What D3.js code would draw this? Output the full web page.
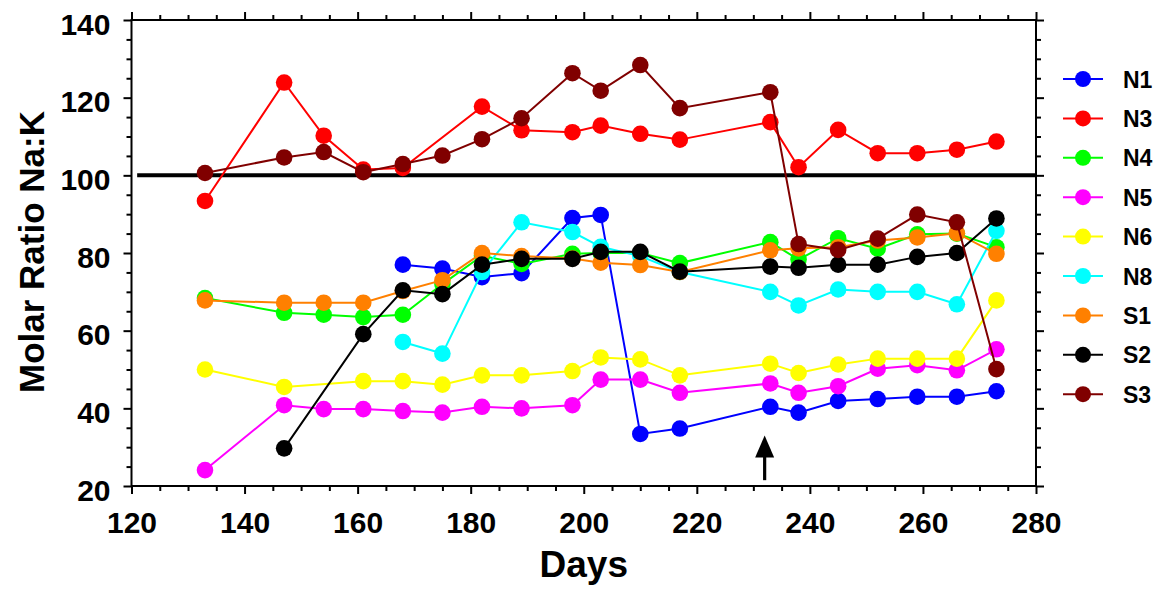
<!DOCTYPE html>
<html>
<head>
<meta charset="utf-8">
<script src="https://cdn.jsdelivr.net/npm/d3@7/dist/d3.min.js"></script>
<style>
  html, body { margin: 0; padding: 0; background: #fff; }
  svg { display: block; }
  text { font-family: "Liberation Sans", Arial, Helvetica, sans-serif; font-weight: bold; fill: #000; }
</style>
</head>
<body>
<svg id="chart" width="1163" height="597"></svg>
<script>
// ---- Data ----
const seriesNames = ["N1", "N3", "N4", "N5", "N6", "N8", "S1", "S2", "S3"];
const seriesColors = ["#0000ff", "#ff0000", "#00ff00", "#ff00ff", "#ffff00", "#00ffff", "#ff8000", "#000000", "#800000"];

const N1_days = [168, 175, 182, 189, 198, 203, 210, 217, 233, 238, 245, 252, 259, 266, 273];
const N1_vals = [77.0, 76.0, 73.8, 74.8, 89.0, 89.8, 33.4, 34.8, 40.4, 38.9, 41.9, 42.4, 43.0, 43.0, 44.4];

const N3_days = [133, 147, 154, 161, 168, 182, 189, 198, 203, 210, 217, 233, 238, 245, 252, 259, 266, 273];
const N3_vals = [93.4, 123.9, 110.2, 101.5, 101.9, 117.7, 111.6, 111.1, 112.8, 110.7, 109.2, 113.7, 102.1, 111.7, 105.7, 105.7, 106.6, 108.7];

const N4_days = [133, 147, 154, 161, 168, 175, 182, 189, 198, 203, 210, 217, 233, 238, 245, 252, 259, 266, 273];
const N4_vals = [68.4, 64.6, 64.1, 63.5, 64.1, 72.0, 79.3, 77.2, 79.8, 80.0, 80.0, 77.4, 82.8, 78.3, 83.8, 81.1, 84.8, 85.0, 81.5];

const N5_days = [133, 147, 154, 161, 168, 175, 182, 189, 198, 203, 210, 217, 233, 238, 245, 252, 259, 266, 273];
const N5_vals = [24.1, 40.8, 39.8, 39.8, 39.3, 38.9, 40.4, 40.0, 40.8, 47.4, 47.4, 44.0, 46.4, 44.0, 45.7, 50.2, 51.1, 49.8, 55.2];

const N6_days = [133, 147, 161, 168, 175, 182, 189, 198, 203, 210, 217, 233, 238, 245, 252, 259, 266, 273];
const N6_vals = [50.0, 45.5, 47.0, 47.0, 46.1, 48.5, 48.5, 49.6, 53.1, 52.6, 48.5, 51.5, 49.1, 51.3, 52.8, 52.8, 52.8, 67.8];

const N8_days = [168, 175, 182, 189, 198, 203, 210, 217, 233, 238, 245, 252, 259, 266, 273];
const N8_vals = [57.1, 54.1, 75.1, 87.9, 85.4, 81.6, 79.2, 75.1, 70.0, 66.5, 70.6, 70.0, 70.0, 66.8, 85.7];

const S1_days = [133, 147, 154, 161, 168, 175, 182, 189, 198, 203, 210, 217, 233, 238, 245, 252, 259, 266, 273];
const S1_vals = [67.8, 67.2, 67.2, 67.2, 70.2, 73.0, 80.0, 79.2, 78.6, 77.5, 76.9, 75.1, 80.7, 81.2, 81.5, 83.2, 84.0, 85.1, 79.8];

const S2_days = [147, 161, 168, 175, 182, 189, 198, 203, 210, 217, 233, 238, 245, 252, 259, 266, 273];
const S2_vals = [29.7, 59.1, 70.4, 69.4, 77.0, 78.5, 78.5, 80.3, 80.3, 75.2, 76.5, 76.2, 77.0, 77.0, 79.0, 80.0, 88.9];

const S3_days = [133, 147, 154, 161, 168, 175, 182, 189, 198, 203, 210, 217, 233, 238, 245, 252, 259, 266, 273];
const S3_vals = [100.6, 104.6, 106.0, 100.8, 102.9, 105.1, 109.3, 114.7, 126.3, 121.8, 128.4, 117.3, 121.4, 82.3, 80.8, 83.7, 89.9, 87.9, 50.1];

const xTicks = [120, 140, 160, 180, 200, 220, 240, 260, 280];
const yTicks = [20, 40, 60, 80, 100, 120, 140];
const xDomain = [120, 280];
const yDomain = [20, 140];
const refLine = { from: 121, to: 280, value: 100 };
const arrow = { day: 232, from: 21.5, to: 33 };
const xTitle = "Days";
const yTitle = "Molar Ratio Na:K";

const allDays = [N1_days, N3_days, N4_days, N5_days, N6_days, N8_days, S1_days, S2_days, S3_days];
const allVals = [N1_vals, N3_vals, N4_vals, N5_vals, N6_vals, N8_vals, S1_vals, S2_vals, S3_vals];

// ---- Layout ----
const svg = d3.select("#chart");
const L = 131.5, R = 1036, T = 20, B = 486;

const x = d3.scaleLinear().domain(xDomain).range([L, R]);
const y = d3.scaleLinear().domain(yDomain).range([B, T]);

const xMinor = d3.range(120, 281, 5).filter(v => v % 20 !== 0);
const yMinor = d3.range(20, 141, 5).filter(v => v % 20 !== 0);

function styleAxis(g) {
  g.select(".domain").remove();
  g.selectAll(".tick line").attr("stroke", "#000").attr("stroke-width", 2);
}

// minor ticks
svg.append("g").attr("transform", `translate(0,${B})`)
  .call(d3.axisBottom(x).tickValues(xMinor).tickSize(5).tickFormat("")).call(styleAxis);
svg.append("g").attr("transform", `translate(0,${T})`)
  .call(d3.axisTop(x).tickValues(xMinor).tickSize(5).tickFormat("")).call(styleAxis);
svg.append("g").attr("transform", `translate(${L},0)`)
  .call(d3.axisLeft(y).tickValues(yMinor).tickSize(5).tickFormat("")).call(styleAxis);
svg.append("g").attr("transform", `translate(${R},0)`)
  .call(d3.axisRight(y).tickValues(yMinor).tickSize(5).tickFormat("")).call(styleAxis);

// major ticks
const gx = svg.append("g").attr("transform", `translate(0,${B})`)
  .call(d3.axisBottom(x).tickValues(xTicks).tickSize(8).tickFormat(d3.format("d"))).call(styleAxis);
gx.selectAll("text").attr("y", 47).attr("dy", 0).style("font-size", "30px").style("font-weight", "bold");

svg.append("g").attr("transform", `translate(0,${T})`)
  .call(d3.axisTop(x).tickValues(xTicks).tickSize(8).tickFormat("")).call(styleAxis);

const gy = svg.append("g").attr("transform", `translate(${L},0)`)
  .call(d3.axisLeft(y).tickValues(yTicks).tickSize(8).tickFormat(d3.format("d"))).call(styleAxis);
gy.selectAll("text").attr("x", -21).attr("dy", "14px").style("font-size", "30px").style("font-weight", "bold");

svg.append("g").attr("transform", `translate(${R},0)`)
  .call(d3.axisRight(y).tickValues(yTicks).tickSize(8).tickFormat("")).call(styleAxis);

// frame
svg.append("rect").attr("x", L).attr("y", T).attr("width", R - L).attr("height", B - T)
  .attr("fill", "none").attr("stroke", "#000").attr("stroke-width", 2);

// reference line at 100
svg.append("line")
  .attr("x1", x(refLine.from)).attr("x2", x(refLine.to))
  .attr("y1", y(refLine.value)).attr("y2", y(refLine.value))
  .attr("stroke", "#000").attr("stroke-width", 4);

// series
const line = d3.line().x(d => x(d[0])).y(d => y(d[1]));
seriesNames.forEach((name, i) => {
  const pts = allDays[i].map((d, j) => [d, allVals[i][j]]);
  const g = svg.append("g").attr("class", "series-" + name);
  g.append("path").datum(pts).attr("d", line)
    .attr("fill", "none").attr("stroke", seriesColors[i]).attr("stroke-width", 2);
  g.selectAll("circle").data(pts).enter().append("circle")
    .attr("cx", d => x(d[0])).attr("cy", d => y(d[1])).attr("r", 8.3)
    .attr("fill", seriesColors[i]);
});

// arrow
const ax = x(arrow.day);
const headLen = 22, headW = 9.5;
svg.append("line")
  .attr("x1", ax).attr("x2", ax)
  .attr("y1", y(arrow.from)).attr("y2", y(arrow.to) + headLen - 2)
  .attr("stroke", "#000").attr("stroke-width", 3.2);
svg.append("path")
  .attr("d", `M${ax},${y(arrow.to)} L${ax - headW},${y(arrow.to) + headLen} L${ax + headW},${y(arrow.to) + headLen} Z`)
  .attr("fill", "#000");

// titles
svg.append("text").attr("x", (L + R) / 2).attr("y", 577)
  .attr("text-anchor", "middle").style("font-size", "37px").text(xTitle);
svg.append("text").attr("transform", `translate(44,252) rotate(-90)`)
  .attr("text-anchor", "middle").style("font-size", "35px").text(yTitle);

// legend
const lg = svg.append("g");
seriesNames.forEach((name, i) => {
  const cy = 79 + i * 39.4;
  lg.append("line").attr("x1", 1063).attr("x2", 1103).attr("y1", cy).attr("y2", cy)
    .attr("stroke", seriesColors[i]).attr("stroke-width", 2);
  lg.append("circle").attr("cx", 1083).attr("cy", cy).attr("r", 8).attr("fill", seriesColors[i]);
  lg.append("text").attr("x", 1123).attr("y", cy + 8.5).style("font-size", "23px").text(name);
});
</script>
</body>
</html>
